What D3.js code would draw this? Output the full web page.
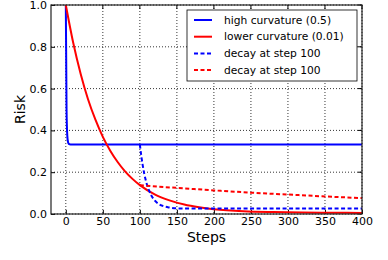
<!DOCTYPE html>
<html>
<head>
<meta charset="utf-8">
<script src="https://cdn.jsdelivr.net/npm/d3@7"></script>
<style>
    body { margin: 0; background: #fff; }
    svg { display: block; font-family: "DejaVu Sans", sans-serif; }
</style>
</head>
<body>
<svg id="chart" width="388" height="260"></svg>
<script>
// data
const highSteps = [0, 1, 2, 3, 4, 5, 8, 400];
const highRisk = [1.0, 0.5, 0.375, 0.344, 0.336, 0.334, 0.333, 0.333];

const lowSteps = [0, 10, 20, 30, 40, 50, 60, 70, 80, 90, 100, 120, 140, 160, 180, 200, 240, 280, 320, 360, 400];
const lowRisk = [1.0, 0.819, 0.671, 0.549, 0.451, 0.369, 0.303, 0.249, 0.204, 0.168, 0.138, 0.094, 0.065, 0.045, 0.032, 0.023, 0.013, 0.009, 0.007, 0.006, 0.005];

const highDecaySteps = [100, 102, 104, 106, 108, 110, 115, 120, 125, 130, 140, 150, 175, 400];
const highDecayRisk = [0.333, 0.276, 0.230, 0.192, 0.161, 0.136, 0.092, 0.065, 0.049, 0.040, 0.031, 0.027, 0.026, 0.026];

const lowDecaySteps = [100, 125, 150, 200, 250, 300, 350, 400];
const lowDecayRisk = [0.138, 0.131, 0.125, 0.113, 0.102, 0.093, 0.084, 0.076];

const xTicks = [0, 50, 100, 150, 200, 250, 300, 350, 400];
const yTicks = [0.0, 0.2, 0.4, 0.6, 0.8, 1.0];

const legendLabels = ["high curvature (0.5)", "lower curvature (0.01)", "decay at step 100", "decay at step 100"];

// layout
const svg = d3.select('#chart');
const margin = {top: 5, right: 26, bottom: 46, left: 51};
const width = 388 - margin.left - margin.right;
const height = 260 - margin.top - margin.bottom;
const g = svg.append('g').attr('transform', `translate(${margin.left},${margin.top})`);

const x = d3.scaleLinear().domain([-20, 400]).range([0, width]);
const y = d3.scaleLinear().domain([0, 1]).range([height, 0]);

// grid
g.append('g').selectAll('line').data(xTicks).join('line')
    .attr('x1', d => x(d)).attr('x2', d => x(d))
    .attr('y1', 0).attr('y2', height)
    .attr('stroke', '#000').attr('stroke-width', 0.8).attr('stroke-dasharray', '1,2');
g.append('g').selectAll('line').data(yTicks).join('line')
    .attr('x1', 0).attr('x2', width)
    .attr('y1', d => y(d)).attr('y2', d => y(d))
    .attr('stroke', '#000').attr('stroke-width', 0.8).attr('stroke-dasharray', '1,2');

// axes
const xAxis = g.append('g').attr('transform', `translate(0,${height})`)
    .call(d3.axisBottom(x).tickValues(xTicks).tickSizeInner(-4).tickSizeOuter(0).tickPadding(3.5));
const yAxis = g.append('g')
    .call(d3.axisLeft(y).tickValues(yTicks).tickFormat(d3.format('.1f')).tickSizeInner(-4).tickSizeOuter(0).tickPadding(4));
[xAxis, yAxis].forEach(a => {
    a.select('.domain').remove();
    a.selectAll('text').attr('font-size', 11).attr('font-family', 'DejaVu Sans').attr('fill', '#000');
    a.selectAll('line').attr('stroke', '#000');
});
// top/right ticks
g.append('g').selectAll('line').data(xTicks).join('line')
    .attr('x1', d => x(d)).attr('x2', d => x(d)).attr('y1', 0).attr('y2', 4).attr('stroke', '#000');
g.append('g').selectAll('line').data(yTicks).join('line')
    .attr('x1', width).attr('x2', width - 4).attr('y1', d => y(d)).attr('y2', d => y(d)).attr('stroke', '#000');

// curves
svg.append('defs').append('clipPath').attr('id', 'clip')
    .append('rect').attr('width', width).attr('height', height + 1).attr('y', -1);
const line = d3.line().x(d => x(d[0])).y(d => y(d[1])).curve(d3.curveMonotoneX);
const series = [
    {steps: highSteps, risk: highRisk, color: '#0000ff', dash: null},
    {steps: lowSteps, risk: lowRisk, color: '#ff0000', dash: null},
    {steps: highDecaySteps, risk: highDecayRisk, color: '#0000ff', dash: '4,2.5'},
    {steps: lowDecaySteps, risk: lowDecayRisk, color: '#ff0000', dash: '4,2.5'}
];
const plot = g.append('g').attr('clip-path', 'url(#clip)');
series.forEach(s => {
    plot.append('path')
        .datum(d3.zip(s.steps, s.risk))
        .attr('d', line)
        .attr('fill', 'none')
        .attr('stroke', s.color)
        .attr('stroke-width', 2)
        .attr('stroke-dasharray', s.dash);
});

// frame
g.append('rect').attr('width', width).attr('height', height)
    .attr('fill', 'none').attr('stroke', '#222').attr('stroke-width', 1.2);

// axis labels
svg.append('text').attr('x', margin.left + width / 2).attr('y', 241.5)
    .attr('text-anchor', 'middle').attr('font-size', 14).text('Steps');
svg.append('text').attr('transform', `translate(25,${margin.top + height / 2}) rotate(-90)`)
    .attr('text-anchor', 'middle').attr('font-size', 14).text('Risk');

// legend
const legend = svg.append('g').attr('transform', 'translate(187,10)');
legend.append('rect').attr('width', 170).attr('height', 71)
    .attr('fill', '#fff').attr('stroke', '#000').attr('stroke-width', 0.8);
const item = legend.selectAll('g.item').data(series).join('g')
    .attr('class', 'item')
    .attr('transform', (d, i) => `translate(0,${10 + i * 16.7})`);
item.append('line').attr('x1', 7).attr('x2', 25).attr('y1', 0).attr('y2', 0)
    .attr('stroke', d => d.color).attr('stroke-width', 2).attr('stroke-dasharray', d => d.dash);
item.append('text').attr('x', 37).attr('y', 0).attr('dy', '0.35em')
    .attr('font-size', 10.7).text((d, i) => legendLabels[i]);
</script>
</body>
</html>
